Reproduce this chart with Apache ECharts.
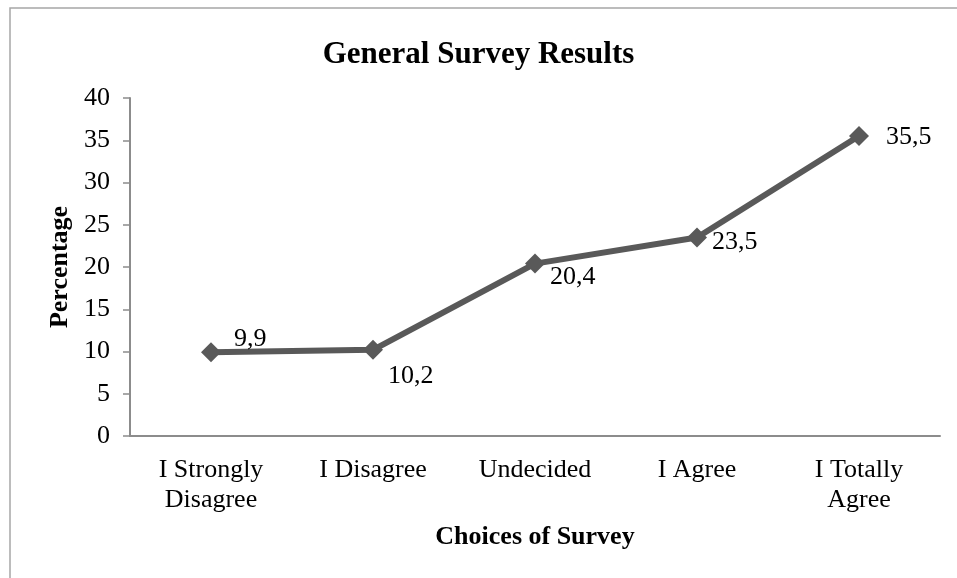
<!DOCTYPE html>
<html>
<head>
<meta charset="utf-8">
<script src="https://cdn.jsdelivr.net/npm/echarts@6/dist/echarts.min.js"></script>
<style>
  html, body { margin: 0; padding: 0; background: #fff; }
  #chart { width: 957px; height: 578px; }
</style>
</head>
<body>
<div id="chart"></div>
<script>
// Survey data
const categories = ['I Strongly\nDisagree', 'I Disagree', 'Undecided', 'I Agree', 'I Totally\nAgree'];
const percentages = [9.9, 10.2, 20.4, 23.5, 35.5];
// where each value label sits next to its marker
const labelOffsets = [[8, -13], [0, 26], [0, 14], [0, 5], [12, 1]];

const serif = '"Liberation Serif", "Times New Roman", serif';

const chart = echarts.init(document.getElementById('chart'));

chart.setOption({
    animation: false,
    textStyle: { fontFamily: serif },
    graphic: [{
        // outer frame, only top and left edges fall inside the picture
        type: 'rect',
        shape: { x: 10, y: 8, width: 1200, height: 900 },
        style: { fill: 'none', stroke: '#a6a6a6', lineWidth: 1.5 }
    }],
    title: {
        text: 'General Survey Results',
        left: 'center',
        top: 34,
        textStyle: { fontFamily: serif, fontSize: 31, fontWeight: 'bold', color: '#000' }
    },
    grid: { left: 130, right: 17, top: 98, bottom: 142 },
    xAxis: {
        type: 'category',
        data: categories,
        boundaryGap: true,
        name: 'Choices of Survey',
        nameLocation: 'middle',
        nameGap: 88,
        nameTextStyle: { fontFamily: serif, fontSize: 26, fontWeight: 'bold', color: '#000' },
        axisLine: { lineStyle: { color: '#8c8c8c', width: 2 } },
        axisTick: { show: false },
        axisLabel: { fontFamily: serif, fontSize: 26, color: '#000', margin: 19, lineHeight: 30 }
    },
    yAxis: {
        type: 'value',
        min: 0,
        max: 40,
        interval: 5,
        name: 'Percentage',
        nameLocation: 'middle',
        nameGap: 57,
        nameTextStyle: { fontFamily: serif, fontSize: 26, fontWeight: 'bold', color: '#000' },
        axisLine: { show: true, lineStyle: { color: '#8c8c8c', width: 2 } },
        axisTick: { show: true, length: 7, lineStyle: { color: '#8c8c8c', width: 1.5 } },
        splitLine: { show: false },
        axisLabel: { fontFamily: serif, fontSize: 26, color: '#000', margin: 20 }
    },
    series: [{
        type: 'line',
        data: percentages.map((v, i) => ({
            value: v,
            label: { offset: labelOffsets[i] }
        })),
        symbol: 'diamond',
        symbolSize: 20,
        lineStyle: { color: '#595959', width: 6 },
        itemStyle: { color: '#595959' },
        label: {
            show: true,
            position: 'right',
            fontFamily: serif,
            fontSize: 26,
            color: '#000',
            formatter: p => String(p.value).replace('.', ',')
        }
    }]
});
</script>
</body>
</html>
